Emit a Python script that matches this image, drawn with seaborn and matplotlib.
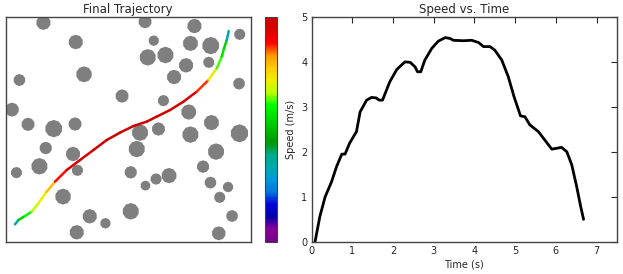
import numpy as np
import seaborn as sns
import matplotlib
matplotlib.use("Agg")
import matplotlib.pyplot as plt
from matplotlib.collections import LineCollection
from matplotlib.patches import RegularPolygon
from matplotlib.colors import ListedColormap, Normalize
from matplotlib.cm import ScalarMappable

# Speed vs time
time_s = [0.08, 0.2, 0.33, 0.49, 0.61, 0.74, 0.82, 0.93, 1.1, 1.19, 1.35, 1.47, 1.58,
          1.66, 1.74, 1.92, 2.09, 2.29, 2.42, 2.54, 2.6, 2.68, 2.78, 2.95, 3.11, 3.28,
          3.4, 3.48, 3.73, 3.93, 4.1, 4.22, 4.38, 4.5, 4.67, 4.83, 4.97, 5.13, 5.24,
          5.36, 5.57, 5.73, 5.9, 6.02, 6.14, 6.27, 6.39, 6.51, 6.61, 6.68]
speed = [0.0, 0.57, 1.01, 1.35, 1.68, 1.96, 1.96, 2.2, 2.46, 2.9, 3.16, 3.22, 3.21,
         3.16, 3.16, 3.57, 3.84, 4.01, 4.0, 3.9, 3.79, 3.79, 4.05, 4.31, 4.47, 4.55,
         4.53, 4.49, 4.48, 4.49, 4.44, 4.35, 4.35, 4.27, 4.05, 3.68, 3.24, 2.81, 2.79,
         2.61, 2.46, 2.27, 2.07, 2.09, 2.11, 2.01, 1.72, 1.24, 0.79, 0.51]

# Trajectory (x, y) and speed at each point
traj_x = [0.93, 1.27, 1.93, 2.6, 3.27, 4.1, 4.93, 6.1, 7.43, 8.77, 10.1, 11.43,
          12.77, 14.1, 15.1, 16.43, 17.77, 19.1, 20.27, 21.1, 21.6, 21.83, 22.1, 22.3]
traj_y = [1.8, 2.23, 2.63, 3.07, 3.9, 5.07, 6.07, 7.23, 8.23, 9.23, 10.23, 10.97,
          11.63, 12.07, 12.57, 13.23, 14.07, 15.07, 16.23, 17.4, 18.57, 19.4, 20.23, 21.13]
traj_speed = [0.6, 2.3, 2.6, 2.9, 3.2, 3.4, 3.8, 4.2, 4.4, 4.5, 4.5, 4.5,
              4.5, 4.5, 4.5, 4.5, 4.4, 4.3, 3.6, 3.1, 2.6, 2.5, 2.4, 0.7]

# Obstacles
obs_x = [3.77, 13.93, 18.87, 7.0, 14.8, 18.47, 20.5, 23.4, 14.2, 15.97, 18.03, 20.3,
         7.83, 16.83, 1.37, 23.33, 11.63, 15.77, 0.63, 18.3, 2.23, 4.8, 6.93, 13.43,
         15.27, 20.57, 18.47, 23.37, 4.0, 6.73, 13.1, 21.03, 3.37, 7.17, 1.07, 12.5,
         19.73, 16.33, 15.03, 20.47, 13.97, 22.23, 5.73, 21.4, 12.5, 8.4, 9.97, 22.63,
         7.1, 21.3]
obs_y = [21.97, 22.07, 21.63, 20.03, 20.17, 19.9, 19.67, 20.8, 18.5, 18.73, 17.7, 18.0,
         16.8, 16.53, 16.23, 15.87, 14.63, 14.17, 13.27, 13.03, 11.8, 11.37, 11.83, 10.97,
         11.33, 11.97, 10.77, 10.9, 9.43, 8.83, 9.33, 9.07, 7.6, 7.2, 6.97, 7.0,
         7.57, 6.67, 6.33, 5.97, 5.67, 5.53, 4.57, 4.5, 3.1, 2.6, 1.9, 2.63,
         1.0, 0.9]
obs_r = [0.73, 0.67, 0.73, 0.73, 0.53, 0.77, 0.87, 0.57, 0.83, 0.83, 0.73, 0.57,
         0.8, 0.73, 0.6, 0.6, 0.67, 0.57, 0.7, 0.77, 0.67, 0.87, 0.67, 0.83,
         0.67, 0.77, 0.83, 0.9, 0.63, 0.73, 0.83, 0.83, 0.83, 0.57, 0.57, 0.63,
         0.63, 0.77, 0.57, 0.6, 0.5, 0.53, 0.8, 0.57, 0.83, 0.73, 0.53, 0.6,
         0.73, 0.7]

sns.set_style("white")
plt.rcParams["font.family"] = ["DejaVu Sans"]

base = plt.get_cmap("nipy_spectral")
cmap = ListedColormap(base(np.linspace(0.05, 0.95, 256)))
norm = Normalize(0, max(speed))

fig = plt.figure(figsize=(6.23, 2.74), dpi=100)
ax1 = fig.add_axes([0.0092, 0.1157, 0.3933, 0.821])
cax = fig.add_axes([0.4254, 0.1157, 0.0193, 0.821])
ax2 = fig.add_axes([0.5003, 0.1157, 0.490, 0.821])

# Left: trajectory
for x, y, r in zip(obs_x, obs_y, obs_r):
    ax1.add_patch(RegularPolygon((x, y), numVertices=10, radius=r,
                                 facecolor="#7f7f7f", edgecolor="none"))
pts = np.column_stack([traj_x, traj_y])
segs = np.stack([pts[:-1], pts[1:]], axis=1)
seg_speed = (np.array(traj_speed[:-1]) + np.array(traj_speed[1:])) / 2
lc = LineCollection(segs, cmap=cmap, norm=norm, linewidth=1.8, capstyle="round")
lc.set_array(seg_speed)
ax1.add_collection(lc)
ax1.set_xlim(0, 24.5)
ax1.set_ylim(0, 22.5)
ax1.set_xticks([])
ax1.set_yticks([])
ax1.set_title("Final Trajectory", fontsize=8.5, pad=3)

cb = fig.colorbar(ScalarMappable(norm=norm, cmap=cmap), cax=cax)
cb.set_ticks([])
cb.outline.set_edgecolor("#444444")

# Right: speed vs time
sns.lineplot(x=time_s, y=speed, ax=ax2, color="black", linewidth=2)
ax2.set_xlim(0, 7.5)
ax2.set_ylim(0, 5)
ax2.set_xticks(range(8))
ax2.set_yticks(range(6))
ax2.tick_params(direction="in", top=True, right=True, length=4, labelsize=7, pad=3)
ax2.set_xlabel("Time (s)", fontsize=7, labelpad=2)
ax2.set_ylabel("Speed (m/s)", fontsize=7, labelpad=4)
ax2.set_title("Speed vs. Time", fontsize=8.5, pad=3)

for ax in (ax1, ax2):
    for s in ax.spines.values():
        s.set_edgecolor("#444444")
        s.set_linewidth(1)

fig.savefig("out.png", dpi=100)
